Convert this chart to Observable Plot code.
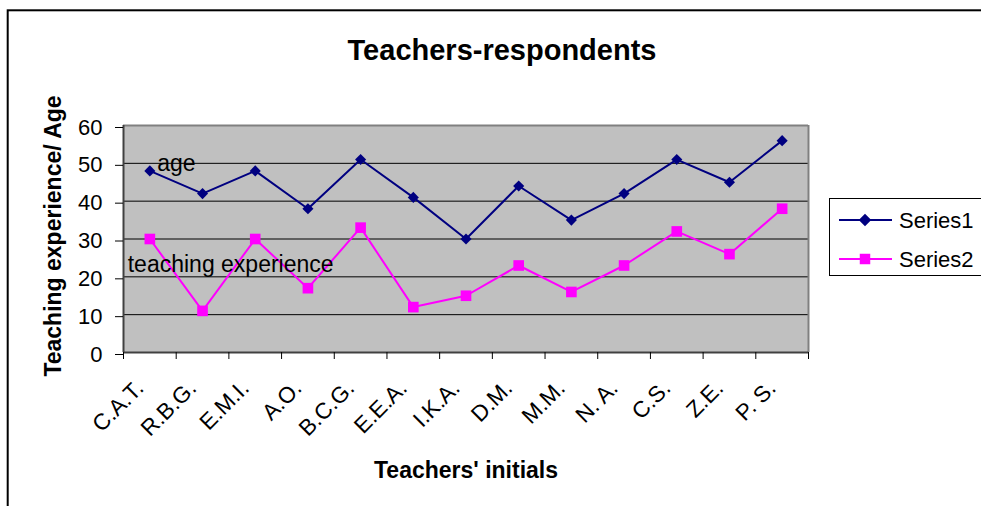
<!DOCTYPE html>
<html>
<head>
<meta charset="utf-8">
<script src="https://cdn.jsdelivr.net/npm/d3@7"></script>
<script src="https://cdn.jsdelivr.net/npm/@observablehq/plot@0.6"></script>
<style>
  html, body { margin: 0; padding: 0; background: white; }
</style>
</head>
<body>
<div id="chart"></div>
<script>
const teachers = ["C.A.T.", "R.B.G.", "E.M.I.", "A.O.", "B.C.G.", "E.E.A.", "I.K.A.", "D.M.", "M.M.", "N. A.", "C.S.", "Z.E.", "P. S."];
const series1 = [48, 42, 48, 38, 51, 41, 30, 44, 35, 42, 51, 45, 56];
const series2 = [30, 11, 30, 17, 33, 12, 15, 23, 16, 23, 32, 26, 38];
const seriesNames = ["Series1", "Series2"];
const seriesColors = ["#000080", "#ff00ff"];
const yTicks = [0, 10, 20, 30, 40, 50, 60];
const gridValues = [10, 20, 30, 40, 50];
const titleText = "Teachers-respondents";
const xLabel = "Teachers' initials";
const yLabel = "Teaching experience/ Age";
const annotations = [
  {text: "age", i: 0.64, v: 50},
  {text: "teaching experience", i: 0.08, v: 23.2}
];

const rows = teachers.flatMap((t, i) => [
  {t, i, v: series1[i], s: seriesNames[0]},
  {t, i, v: series2[i], s: seriesNames[1]}
]);
const cats = teachers.map((t, i) => ({t, i}));
const FONT = "'Liberation Sans', Arial, sans-serif";

const plot = Plot.plot({
  width: 981,
  height: 506,
  marginLeft: 123,
  marginRight: 173,
  marginTop: 125,
  marginBottom: 154,
  style: {fontFamily: FONT, background: "white", color: "black", overflow: "visible"},
  x: {domain: [0, teachers.length]},
  y: {domain: [0, 60]},
  color: {domain: seriesNames, range: seriesColors},
  marks: [
    Plot.frame({fill: "#c0c0c0", stroke: null}),
    Plot.ruleY(gridValues, {stroke: "black", strokeWidth: 1}),
    Plot.ruleY([60], {stroke: "#808080", strokeWidth: 2}),
    Plot.ruleX([teachers.length], {stroke: "#808080", strokeWidth: 2}),
    Plot.ruleX([0], {stroke: "#404040", strokeWidth: 2}),
    Plot.ruleY([0], {stroke: "#404040", strokeWidth: 2}),
    Plot.axisY({ticks: yTicks, tickSize: 8, tickPadding: 13, fontSize: 22, label: null, dy: 2, stroke: "black"}),
    Plot.axisX({ticks: d3.range(0, teachers.length + 1), tickFormat: () => "", tickSize: 7, label: null, stroke: "black"}),
    Plot.text(cats, {x: d => d.i + 0.5, text: "t", frameAnchor: "bottom", dx: -10, dy: 32, rotate: -45, textAnchor: "end", lineAnchor: "middle", fontSize: 22.5, fill: "black"}),
    Plot.line(rows, {x: d => d.i + 0.5, y: "v", z: "s", stroke: "s", strokeWidth: 2}),
    Plot.dot(rows.filter(d => d.s === seriesNames[0]), {x: d => d.i + 0.5, y: "v", symbol: "diamond2", r: 5, fill: "s", stroke: null}),
    Plot.dot(rows.filter(d => d.s === seriesNames[1]), {x: d => d.i + 0.5, y: "v", symbol: "square", r: 6, fill: "s", stroke: null}),
    Plot.text(annotations, {x: "i", y: "v", text: "text", textAnchor: "start", lineAnchor: "middle", fontSize: 23, fill: "black"}),
    Plot.text([titleText], {frameAnchor: "top", dx: 36, dy: -75, textAnchor: "middle", lineAnchor: "middle", fontSize: 29, fontWeight: "bold", fill: "black"}),
    Plot.text([xLabel], {frameAnchor: "bottom", dy: 118, textAnchor: "middle", lineAnchor: "middle", fontSize: 23, fontWeight: "bold", fill: "black"}),
    Plot.text([yLabel], {frameAnchor: "left", dx: -70, dy: -3, rotate: -90, textAnchor: "middle", lineAnchor: "middle", fontSize: 23, fontWeight: "bold", fill: "black"})
  ]
});

const svg = d3.select(plot);
// outer chart border
svg.append("rect")
  .attr("x", 7.7).attr("y", 10.3).attr("width", 1100).attr("height", 700)
  .attr("fill", "none").attr("stroke", "black").attr("stroke-width", 2);

// legend
const lg = svg.append("g").attr("font-family", FONT).attr("text-anchor", "start");
lg.append("rect")
  .attr("x", 829.5).attr("y", 198.5).attr("width", 200).attr("height", 77)
  .attr("fill", "white").attr("stroke", "black").attr("stroke-width", 1);
const symbols = [d3.symbol(d3.symbolDiamond2, 100), d3.symbol(d3.symbolSquare, 110)];
seriesNames.forEach((name, k) => {
  const y = 220 + k * 39;
  lg.append("line").attr("x1", 839).attr("x2", 892).attr("y1", y).attr("y2", y)
    .attr("stroke", seriesColors[k]).attr("stroke-width", 2);
  lg.append("path").attr("d", symbols[k]()).attr("transform", `translate(865,${y})`)
    .attr("fill", seriesColors[k]);
  lg.append("text").attr("x", 899).attr("y", y + 7.5).attr("font-size", 22)
    .attr("text-anchor", "start").attr("fill", "black").text(name);
});

document.getElementById("chart").appendChild(plot);
</script>
</body>
</html>
